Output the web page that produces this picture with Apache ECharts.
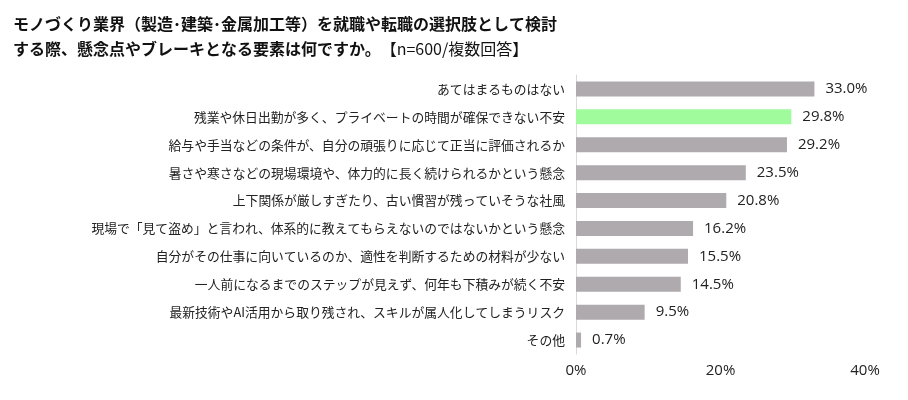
<!DOCTYPE html>
<html>
<head>
<meta charset="utf-8">
<script src="https://cdn.jsdelivr.net/npm/echarts@6/dist/echarts.min.js"></script>
<style>
  html, body { margin: 0; padding: 0; background: #fff; }
  #chart { width: 908px; height: 400px; }
</style>
</head>
<body>
<div id="chart"></div>
<script>
// survey items, top to bottom
const categories = [
  'あてはまるものはない',
  '残業や休日出勤が多く、プライベートの時間が確保できない不安',
  '給与や手当などの条件が、自分の頑張りに応じて正当に評価されるか',
  '暑さや寒さなどの現場環境や、体力的に長く続けられるかという懸念',
  '上下関係が厳しすぎたり、古い慣習が残っていそうな社風',
  '現場で「見て盗め」と言われ、体系的に教えてもらえないのではないかという懸念',
  '自分がその仕事に向いているのか、適性を判断するための材料が少ない',
  '一人前になるまでのステップが見えず、何年も下積みが続く不安',
  '最新技術やAI活用から取り残され、スキルが属人化してしまうリスク',
  'その他'
]
const values = [33.0, 29.8, 29.2, 23.5, 20.8, 16.2, 15.5, 14.5, 9.5, 0.7]
const highlightIndex = 1
const xTicks = [0, 20, 40]

const chart = echarts.init(document.getElementById('chart'))
const font = '"Noto Sans CJK JP", "Noto Sans", sans-serif'

const option = {
  animation: false,
  title: {
    left: 8,
    top: 6,
    text: '{b|モノづくり業界（製造･建築･金属加工等）を就職や転職の選択肢として検討}\n{b|する際、懸念点やブレーキとなる要素は何ですか。}{n|【n=600/複数回答】}',
    textStyle: {
      rich: {
        b: { fontFamily: font, fontSize: 16, fontWeight: 'bold', color: '#111', lineHeight: 25 },
        n: { fontFamily: font, fontSize: 16, fontWeight: 'normal', color: '#111', lineHeight: 25 }
      }
    }
  },
  grid: { left: 576, right: 43, top: 75, bottom: 46 },
  xAxis: {
    type: 'value',
    min: 0,
    max: 40,
    interval: 20,
    axisLine: { show: false },
    axisTick: { show: false },
    splitLine: { show: false },
    axisLabel: {
      formatter: v => xTicks.includes(v) ? v + '%' : '',
      fontFamily: '"Open Sans", "Noto Sans", sans-serif',
      fontSize: 15,
      color: '#222',
      margin: 9
    }
  },
  yAxis: {
    type: 'category',
    inverse: true,
    data: categories,
    axisLine: { show: true, lineStyle: { color: '#d9d9d9', width: 1 } },
    axisTick: { show: false },
    axisLabel: {
      fontFamily: font,
      fontSize: 12.8,
      color: '#222',
      margin: 11
    }
  },
  series: [{
    type: 'bar',
    barWidth: 15,
    data: values.map((v, i) => ({
      value: v,
      itemStyle: { color: i === highlightIndex ? '#9ffb9b' : '#aeaaae' }
    })),
    label: {
      show: true,
      position: 'right',
      distance: 11,
      formatter: p => p.value.toFixed(1) + '%',
      fontFamily: '"Open Sans", "Noto Sans", sans-serif',
      fontSize: 15,
      color: '#222'
    }
  }]
}

chart.setOption(option)
</script>
</body>
</html>
